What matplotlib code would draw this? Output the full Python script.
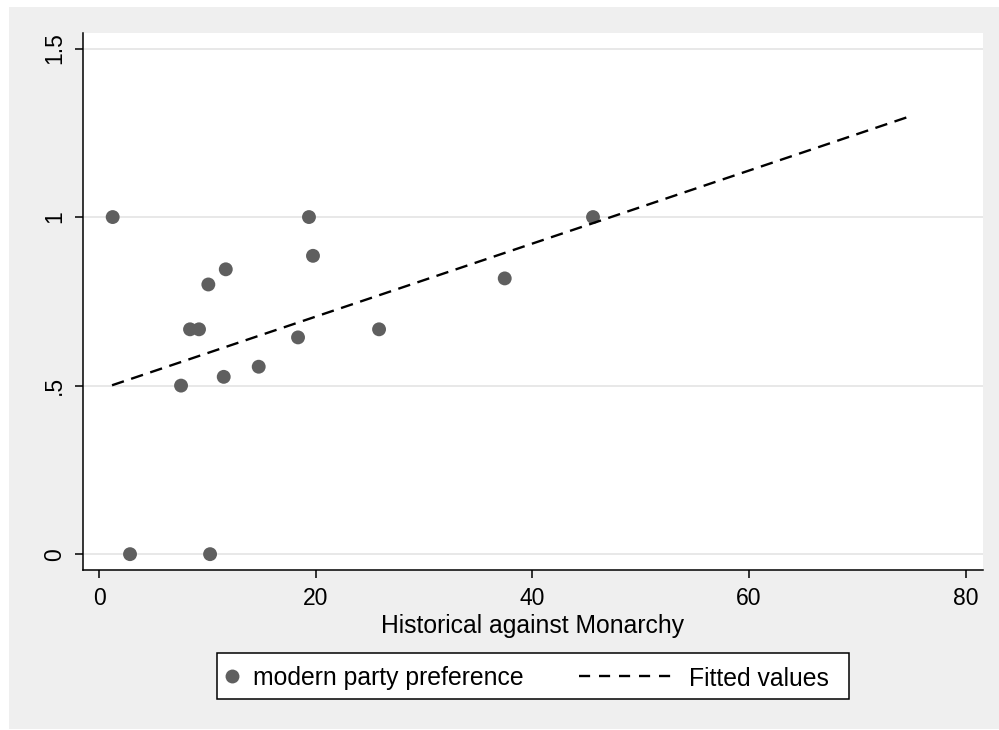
import matplotlib
matplotlib.use("Agg")
import matplotlib.pyplot as plt
from matplotlib.patches import Rectangle
from matplotlib.lines import Line2D

plt.rcParams['font.family'] = ['Liberation Sans', 'DejaVu Sans']
plt.rcParams['lines.scale_dashes'] = False

# Data
hist_against_monarchy = [1.26, 2.86, 7.57, 8.40, 9.23, 10.09, 10.25, 11.51, 11.70,
                         14.74, 18.37, 19.38, 19.75, 25.85, 37.45, 45.6]
modern_party_pref = [1.0, 0.0, 0.5, 0.667, 0.667, 0.80, 0.0, 0.526, 0.845,
                     0.556, 0.643, 1.0, 0.885, 0.667, 0.818, 1.0]
fit_x = [1.2, 74.96]
fit_y = [0.501, 1.30]

x_ticks = [0, 20, 40, 60, 80]
y_ticks = [0, 0.5, 1, 1.5]
y_tick_labels = ['0', '.5', '1', '1.5']
legend_labels = ['modern party preference', 'Fitted values']

W, H = 999, 730
fig = plt.figure(figsize=(W / 100, H / 100), dpi=100, facecolor='white')


def fx(px):
    return px / W


def fy(py):
    return 1 - py / H


# outer gray region
bg = Rectangle((fx(9), fy(729)), (999 - 9) / W, (729 - 7) / H,
               transform=fig.transFigure, facecolor='#efefef',
               edgecolor='none', zorder=-10)
fig.add_artist(bg)

ax = fig.add_axes([fx(83), fy(570), (983 - 83) / W, (570 - 33) / H])
ax.set_zorder(1)
ax.set_facecolor('white')
ax.set_xlim(-1.48, 81.6)
ax.set_ylim(-0.047, 1.546)

for y in y_ticks:
    ax.axhline(y, color='#e6e6e6', lw=1.3, zorder=1)

ax.scatter(hist_against_monarchy, modern_party_pref, s=10 ** 2, color='#5f5f5f',
           edgecolors='none', zorder=3)
ax.plot(fit_x, fit_y, color='black', lw=1.7, dashes=(9, 5.5), zorder=4)

for s in ['top', 'right']:
    ax.spines[s].set_visible(False)
for s in ['left', 'bottom']:
    ax.spines[s].set_linewidth(1.1)
    ax.spines[s].set_color('black')

ax.set_xticks(x_ticks)
ax.set_xticklabels([str(t) for t in x_ticks])
ax.set_yticks(y_ticks)
ax.set_yticklabels(y_tick_labels, rotation=90, va='center')
ax.tick_params(axis='both', direction='out', length=6, width=1.1, labelsize=16.5,
               colors='black')
ax.tick_params(axis='x', pad=6)
ax.tick_params(axis='y', pad=6)

ax.set_xlabel('Historical against Monarchy', fontsize=17.85, labelpad=3)

# legend (drawn manually, Stata style)
fig.add_artist(Rectangle((fx(216.7), fy(698.7)), (849 - 216.7) / W, (698.7 - 652.7) / H,
                         transform=fig.transFigure, facecolor='white',
                         edgecolor='black', lw=1.1, zorder=2))
fig.add_artist(Line2D([fx(232)], [fy(676)], marker='o', linestyle='none',
                      color='#5f5f5f', markersize=10, markeredgewidth=0,
                      transform=fig.transFigure, zorder=3))
fig.text(fx(253), fy(676), legend_labels[0], fontsize=17.8, va='center_baseline',
         ha='left', zorder=3)
fig.add_artist(Line2D([fx(579), fx(673)], [fy(676), fy(676)], color='black', lw=1.7,
                      dashes=(8, 6.4), transform=fig.transFigure, zorder=3))
fig.text(fx(689), fy(676), legend_labels[1], fontsize=17.8, va='center_baseline',
         ha='left', zorder=3)

fig.savefig('out.png', dpi=100, facecolor='white')
